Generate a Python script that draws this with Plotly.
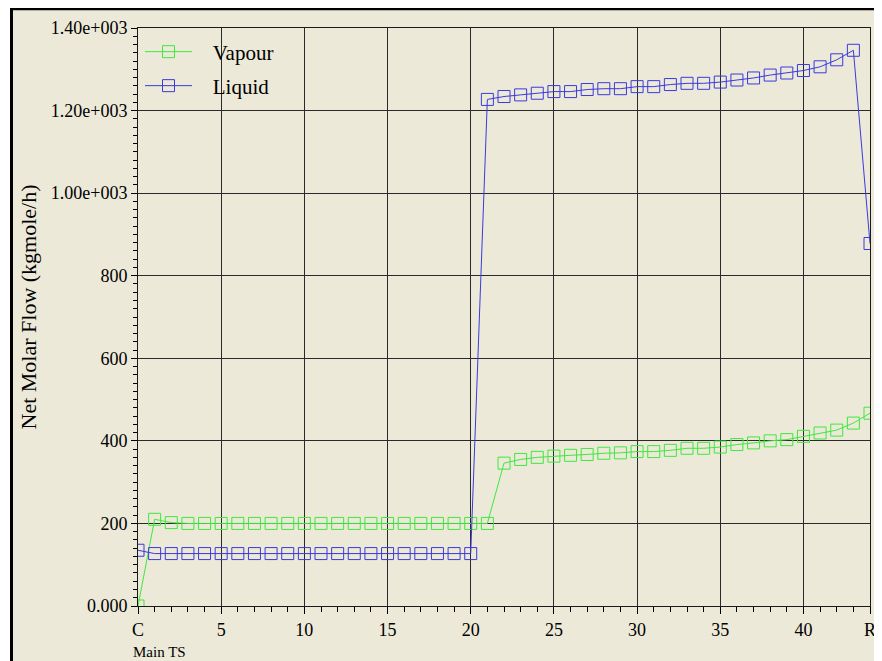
import plotly.graph_objects as go

stages = list(range(0, 45))
tick_vals = [0, 5, 10, 15, 20, 25, 30, 35, 40, 44]
tick_text = ["C", "5", "10", "15", "20", "25", "30", "35", "40", "R"]
y_tick_vals = [0, 200, 400, 600, 800, 1000, 1200, 1400]
y_tick_text = ["0.000", "200", "400", "600", "800", "1.00e+003", "1.20e+003", "1.40e+003"]

vapour = [0, 210, 202] + [200] * 19 + [
    346, 355, 360, 363, 365, 367, 370, 371, 374, 374, 377, 382,
    382, 385, 391, 395, 400, 403, 411, 419, 426, 443, 467]
liquid = [135] + [127] * 20 + [
    1227, 1234, 1238, 1242, 1246, 1246, 1251, 1253, 1253, 1258, 1258,
    1263, 1266, 1266, 1269, 1274, 1279, 1286, 1291, 1297, 1306, 1323,
    1346, 878]

GREEN = "#3ee83e"
BLUE = "#3a3ae0"
BEIGE = "#ECE9D8"
FONT = "Liberation Serif"

# the page body adds an 8px margin; the figure sits at (8, 8)
W, H = 874, 653
L, R, T, B = 130, 12, 20, 55
pw, ph = W - L - R, H - T - B


def px(x):
    return (x - L) / pw


def py(y):
    return (H - B - y) / ph


NB = "\u00a0\u00a0\u00a0"

fig = go.Figure()
fig.add_trace(go.Scatter(
    x=stages, y=vapour, name=NB + "Vapour", mode="lines+markers",
    line=dict(color=GREEN, width=1),
    marker=dict(symbol="square-open", size=12, color=GREEN, line=dict(width=1, color=GREEN)),
    legend="legend"))
fig.add_trace(go.Scatter(
    x=stages, y=liquid, name=NB + "Liquid", mode="lines+markers",
    line=dict(color=BLUE, width=1),
    marker=dict(symbol="square-open", size=12, color=BLUE, line=dict(width=1, color=BLUE)),
    legend="legend2"))

legend_common = dict(
    font=dict(family=FONT, size=21, color="black"),
    bgcolor="rgba(0,0,0,0)", borderwidth=0,
    xanchor="left", yanchor="middle", itemwidth=47,
)

fig.update_layout(
    width=W, height=H, autosize=False,
    margin=dict(l=L, r=R, t=T, b=B, pad=0, autoexpand=False),
    paper_bgcolor=BEIGE, plot_bgcolor=BEIGE,
    font=dict(family=FONT, color="black"),
    showlegend=True,
    legend=dict(x=px(132), y=py(44), **legend_common),
    legend2=dict(x=px(132), y=py(78), **legend_common),
    xaxis=dict(
        range=[0, 44], tickmode="array", tickvals=tick_vals, ticktext=tick_text,
        automargin=False,
        showgrid=True, gridcolor="#2a2a2a", gridwidth=1,
        showline=True, linecolor="#1a1a1a", linewidth=1, mirror=True,
        ticks="outside", ticklen=7, tickcolor="black", tickwidth=1,
        tickfont=dict(family=FONT, size=18, color="black"),
        minor=dict(tickmode="linear", tick0=0, dtick=1, ticks="outside",
                   ticklen=5, tickcolor="black", showgrid=False),
        zeroline=False, fixedrange=True,
    ),
    yaxis=dict(
        range=[0, 1400], tickmode="array", tickvals=y_tick_vals, ticktext=y_tick_text,
        automargin=False,
        showgrid=True, gridcolor="#2a2a2a", gridwidth=1,
        showline=True, linecolor="#1a1a1a", linewidth=1, mirror=True,
        ticks="outside", ticklen=6, tickcolor="black", tickwidth=1,
        tickfont=dict(family=FONT, size=18, color="black"),
        minor=dict(tickmode="linear", tick0=0, dtick=20, ticks="outside",
                   ticklen=4, tickcolor="black", showgrid=False),
        zeroline=False, fixedrange=True,
    ),
    shapes=[
        dict(type="rect", xref="paper", yref="paper", x0=px(-2), x1=px(2),
             y0=py(-2), y1=py(H + 2), fillcolor="white", line=dict(width=0), layer="above"),
        dict(type="line", xref="paper", yref="paper", x0=px(2), x1=px(W),
             y0=py(1), y1=py(1), line=dict(color="black", width=2.5), layer="above"),
        dict(type="line", xref="paper", yref="paper", x0=px(3.5), x1=px(3.5),
             y0=py(0), y1=py(H + 2), line=dict(color="black", width=3), layer="above"),
        dict(type="line", xref="paper", yref="paper", x0=px(872.5), x1=px(872.5),
             y0=py(0), y1=py(H + 2), line=dict(color="black", width=3), layer="above"),
    ],
    annotations=[
        dict(text="Net Molar Flow (kgmole/h)", xref="paper", yref="paper",
             x=px(19.5), y=py(299), textangle=-90, xanchor="center", yanchor="middle",
             showarrow=False, font=dict(family=FONT, size=22, color="black")),
        dict(text="Main TS", xref="paper", yref="paper", x=px(122.5), y=py(644),
             xanchor="left", yanchor="middle", showarrow=False,
             font=dict(family=FONT, size=15, color="black")),
    ],
)

fig.write_html("out.html")
